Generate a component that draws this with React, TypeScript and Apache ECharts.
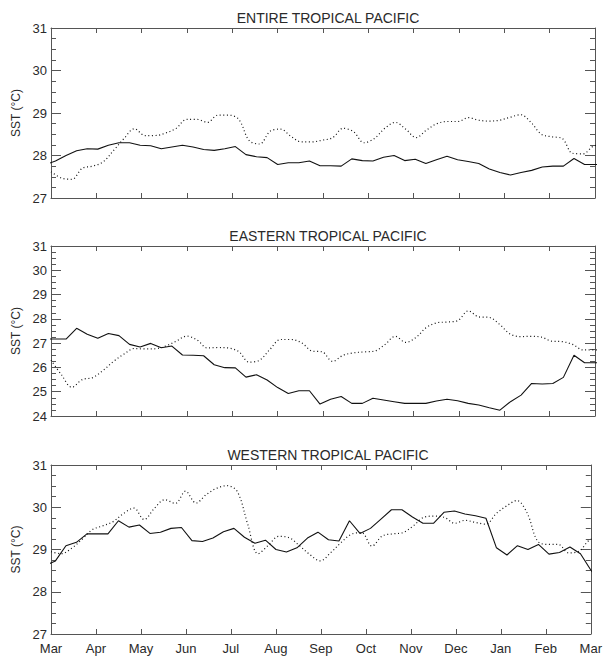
import React, { useEffect, useRef } from "react";
import * as echarts from "echarts";

// Month labels along the shared time axis (March to March)
const MONTHS = ["Mar", "Apr", "May", "Jun", "Jul", "Aug", "Sep", "Oct", "Nov", "Dec", "Jan", "Feb", "Mar"];
const PANEL_TITLES = ["ENTIRE TROPICAL PACIFIC", "EASTERN TROPICAL PACIFIC", "WESTERN TROPICAL PACIFIC"];
const Y_MIN = [27, 24, 27];
const Y_MAX = [31, 31, 31];

// Day (counted from 1 March) of each sample. One sample sits just outside
// each end of the year so that the traces run into the frame.
const SOLID_DAYS = Array.from({ length: 54 }, (_, k) => 3 + 7.1 * (k - 1));
const DOTTED_DAYS = Array.from({ length: 54 }, (_, k) => 7 * k);

// Entire tropical Pacific
const ENTIRE_SOLID = [
  27.78, 27.87, 28.0, 28.11, 28.16, 28.15, 28.24, 28.3, 28.3, 28.24, 28.23, 28.16, 28.2, 28.24,
  28.2, 28.14, 28.12, 28.16, 28.21, 28.02, 27.97, 27.95, 27.79, 27.83, 27.83, 27.87, 27.76, 27.76,
  27.75, 27.92, 27.88, 27.87, 27.96, 28.0, 27.88, 27.91, 27.81, 27.9, 27.98, 27.9, 27.86, 27.81,
  27.68, 27.6, 27.54, 27.6, 27.65, 27.73, 27.75, 27.75, 27.93, 27.79, 27.79, 27.79,
];
const ENTIRE_DOTTED = [
  27.62, 27.47, 27.44, 27.7, 27.75, 27.85, 28.12, 28.4, 28.63, 28.47, 28.47, 28.53, 28.64, 28.85,
  28.85, 28.78, 28.95, 28.95, 28.85, 28.35, 28.27, 28.57, 28.62, 28.45, 28.32, 28.32, 28.36,
  28.42, 28.64, 28.56, 28.3, 28.4, 28.64, 28.78, 28.62, 28.42, 28.6, 28.75, 28.8, 28.8, 28.89,
  28.83, 28.81, 28.83, 28.9, 28.96, 28.78, 28.5, 28.44, 28.4, 28.05, 28.04, 28.22, 28.26,
];

// Eastern tropical Pacific
const EASTERN_SOLID = [
  27.17, 27.17, 27.17, 27.61, 27.37, 27.2, 27.4, 27.31, 26.95, 26.84, 26.99, 26.81, 26.88, 26.51,
  26.5, 26.48, 26.11, 25.99, 25.98, 25.6, 25.7, 25.48, 25.17, 24.93, 25.04, 25.04, 24.49, 24.69,
  24.8, 24.52, 24.52, 24.73, 24.66, 24.59, 24.52, 24.52, 24.52, 24.62, 24.69, 24.63, 24.52, 24.45,
  24.34, 24.24, 24.59, 24.86, 25.34, 25.32, 25.34, 25.59, 26.5, 26.19, 26.19, 26.19,
];
const EASTERN_DOTTED = [
  26.3, 25.7, 25.18, 25.5, 25.58, 25.88, 26.25, 26.55, 26.78, 26.76, 26.77, 26.88, 27.08, 27.29,
  27.13, 26.8, 26.82, 26.8, 26.65, 26.22, 26.3, 26.75, 27.15, 27.15, 27.02, 26.68, 26.64,
  26.25, 26.5, 26.6, 26.64, 26.67, 26.94, 27.28, 27.03, 27.24, 27.65, 27.84, 27.87, 27.93, 28.33,
  28.08, 28.06, 27.77, 27.38, 27.27, 27.28, 27.25, 27.08, 27.06, 26.95, 26.72, 26.72, 26.72,
];

// Western tropical Pacific
const WESTERN_SOLID = [
  28.62, 28.73, 29.09, 29.17, 29.37, 29.37, 29.37, 29.68, 29.53, 29.58, 29.38, 29.41, 29.5, 29.52,
  29.21, 29.19, 29.27, 29.42, 29.5, 29.29, 29.15, 29.22, 29.0, 28.94, 29.04, 29.27, 29.41, 29.23,
  29.2, 29.68, 29.38, 29.5, 29.72, 29.94, 29.94, 29.77, 29.62, 29.62, 29.88, 29.91, 29.84, 29.8,
  29.74, 29.04, 28.87, 29.09, 29.0, 29.12, 28.89, 28.93, 29.06, 28.9, 28.51, 28.2,
];
const WESTERN_DOTTED = [
  28.95, 28.9, 29.03, 29.24, 29.47, 29.56, 29.66, 29.85, 29.98, 29.71, 29.98, 30.18, 30.09, 30.38,
  30.1, 30.3, 30.45, 30.51, 30.37, 29.6, 28.9, 29.1, 29.31, 29.28, 29.09, 28.88, 28.73,
  28.92, 29.16, 29.36, 29.4, 29.08, 29.32, 29.37, 29.4, 29.56, 29.76, 29.79, 29.76, 29.62, 29.69,
  29.64, 29.6, 29.85, 30.03, 30.16, 29.86, 29.2, 29.12, 29.12, 28.92, 28.96, 29.22, 29.3,
];

const SOLID = [ENTIRE_SOLID, EASTERN_SOLID, WESTERN_SOLID];
const DOTTED = [ENTIRE_DOTTED, EASTERN_DOTTED, WESTERN_DOTTED];

const FONT = "'Liberation Sans', Arial, sans-serif";
const INK = "#2a2a2a";
const FRAME = "#555";

const GRIDS = [
  { left: 51, right: 10, top: 28, height: 170 },
  { left: 51, right: 10, top: 246, height: 170 },
  { left: 51, right: 10, top: 465, height: 169 },
];
const TITLE_TOPS = [6, 224, 443];

const toMonths = (days: number[], values: number[]) =>
  values.map((v, i) => [(days[i] / 365) * 12, v]);

function buildOption() {
  const xAxis: any[] = [];
  const yAxis: any[] = [];
  const series: any[] = [];

  GRIDS.forEach((_, i) => {
    const xBase = {
      type: "value",
      gridIndex: i,
      min: 0,
      max: 12,
      interval: 1,
      axisLine: { show: true, onZero: false, lineStyle: { color: FRAME, width: 1 } },
      axisTick: { show: true, inside: true, length: 5, lineStyle: { color: FRAME } },
      splitLine: { show: false },
    };
    xAxis.push({
      ...xBase,
      position: "bottom",
      axisLabel: {
        show: i === 2,
        formatter: (v: number) => MONTHS[Math.round(v)],
        fontSize: 13,
        color: INK,
        fontFamily: FONT,
        margin: 8,
      },
    });
    xAxis.push({ ...xBase, position: "top", axisLabel: { show: false } });

    const yBase = {
      type: "value",
      gridIndex: i,
      min: Y_MIN[i],
      max: Y_MAX[i],
      interval: 1,
      axisLine: { show: true, onZero: false, lineStyle: { color: FRAME, width: 1 } },
      axisTick: { show: true, inside: true, length: 10, lineStyle: { color: FRAME } },
      minorTick: { show: true, splitNumber: 4, length: 5, lineStyle: { color: FRAME } },
      splitLine: { show: false },
      minorSplitLine: { show: false },
    };
    yAxis.push({
      ...yBase,
      position: "left",
      name: "SST (°C)",
      nameLocation: "middle",
      nameRotate: 90,
      nameGap: 27,
      nameTextStyle: { fontSize: 12, color: INK, fontFamily: FONT },
      axisLabel: { fontSize: 13, color: INK, fontFamily: FONT, margin: 4 },
    });
    yAxis.push({ ...yBase, position: "right", axisLabel: { show: false } });

    series.push({
      type: "line",
      xAxisIndex: 2 * i,
      yAxisIndex: 2 * i,
      data: toMonths(SOLID_DAYS, SOLID[i]),
      showSymbol: false,
      clip: true,
      lineStyle: { color: "#111", width: 1.1 },
    });
    series.push({
      type: "line",
      xAxisIndex: 2 * i,
      yAxisIndex: 2 * i,
      data: toMonths(DOTTED_DAYS, DOTTED[i]),
      showSymbol: false,
      smooth: 0.35,
      clip: true,
      lineStyle: { color: "#111", width: 1.2, type: [1, 2.6] },
    });
  });

  return {
    animation: false,
    backgroundColor: "#fff",
    title: PANEL_TITLES.map((t, i) => ({
      text: t,
      left: 323,
      top: TITLE_TOPS[i],
      textAlign: "center",
      textStyle: { fontSize: 14, fontWeight: "normal", color: INK, fontFamily: FONT },
    })),
    grid: GRIDS,
    xAxis,
    yAxis,
    series,
  };
}

export default function App() {
  const ref = useRef<HTMLDivElement>(null);

  useEffect(() => {
    document.body.style.margin = "0";
    if (!ref.current) return;
    const chart = echarts.init(ref.current, undefined, { renderer: "svg" });
    chart.setOption(buildOption() as any);
    return () => chart.dispose();
  }, []);

  return <div ref={ref} style={{ width: 605, height: 657 }} />;
}
